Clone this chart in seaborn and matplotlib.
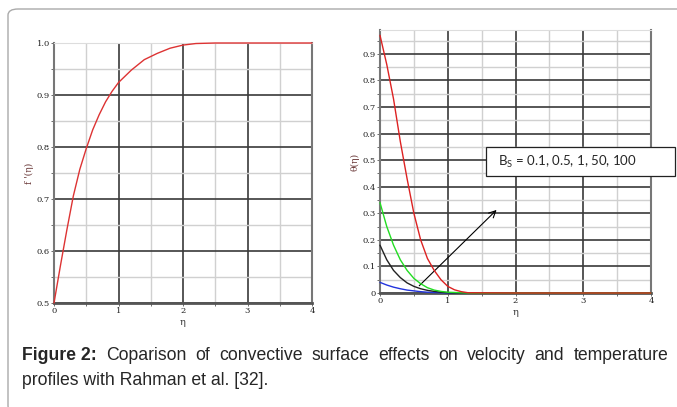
import numpy as np
import pandas as pd
import seaborn as sns
import matplotlib.pyplot as plt
from matplotlib.patches import FancyBboxPatch, Rectangle
from matplotlib.ticker import MultipleLocator

# velocity profile f'(eta)
eta_f = [0, 0.1, 0.2, 0.3, 0.4, 0.5, 0.6, 0.7, 0.8, 0.9, 1.0, 1.2, 1.4, 1.6, 1.8, 2.0, 2.2, 2.5, 3.0, 4.0]
f_prime = [0.50, 0.572, 0.641, 0.706, 0.757, 0.797, 0.833, 0.862, 0.887, 0.907, 0.924,
           0.948, 0.968, 0.980, 0.990, 0.996, 0.999, 1.0, 1.0, 1.0]

# temperature profiles theta(eta) for several Bs
eta_t = [0, 0.1, 0.2, 0.3, 0.4, 0.5, 0.6, 0.7, 0.8, 0.9, 1.0, 1.1, 1.2, 1.3, 2.0, 4.0]
theta_red = [0.97, 0.86, 0.73, 0.57, 0.43, 0.30, 0.20, 0.13, 0.085, 0.05, 0.025, 0.012, 0.005, 0.001, 0, 0]
theta_green = [0.34, 0.25, 0.18, 0.125, 0.085, 0.055, 0.035, 0.02, 0.011, 0.006, 0.003, 0.002, 0.001, 0, 0, 0]
theta_black = [0.18, 0.125, 0.085, 0.058, 0.038, 0.025, 0.016, 0.01, 0.006, 0.003, 0.001, 0, 0, 0, 0, 0]
theta_blue = [0.04, 0.03, 0.022, 0.016, 0.011, 0.008, 0.005, 0.003, 0.002, 0.001, 0, 0, 0, 0, 0, 0]

series_names = ["blue", "black", "green", "red"]
series_vals = [theta_blue, theta_black, theta_green, theta_red]
series_colors = ["#2233dd", "#222222", "#22dd22", "#dd2222"]

caption_1 = ["Figure 2:", "Coparison", "of", "convective", "surface", "effects", "on",
             "velocity", "and", "temperature"]
caption_2 = "profiles with Rahman et al. [32]."

df_f = pd.DataFrame({"eta": eta_f, "f": f_prime})
df_t = pd.concat([pd.DataFrame({"eta": eta_t, "theta": v, "s": n})
                  for n, v in zip(series_names, series_vals)])

sns.set_style("white")
fig = plt.figure(figsize=(6.77, 4.07), dpi=100)

ax1 = fig.add_axes([54/677, 1 - 303/407, 258/677, 260/407])
ax2 = fig.add_axes([380/677, 1 - 293/407, 271/677, 263/407])

sns.lineplot(data=df_f, x="eta", y="f", color="#dd3333", lw=1.0, ax=ax1)
sns.lineplot(data=df_t, x="eta", y="theta", hue="s", palette=dict(zip(series_names, series_colors)),
             lw=1.0, ax=ax2, legend=False)
for ax in (ax1, ax2):
    for ln in ax.lines:
        ln.set_clip_on(False)
        ln.set_zorder(4)

tick_font = dict(family="DejaVu Serif", size=6, color="#222222")

def style(ax, ylo, yhi, ylab):
    ax.set_xlim(0, 4)
    ax.set_ylim(ylo, yhi)
    ax.xaxis.set_major_locator(MultipleLocator(1))
    ax.xaxis.set_minor_locator(MultipleLocator(0.5))
    ax.yaxis.set_major_locator(MultipleLocator(0.1))
    ax.yaxis.set_minor_locator(MultipleLocator(0.05))
    ax.grid(which="major", color="#3a3a3a", lw=1.2)
    ax.grid(which="minor", color="#d0d0d0", lw=1.0)
    ax.set_axisbelow(True)
    ax.tick_params(which="both", left=True, bottom=True, length=2, width=0.6, colors="#555555", pad=1)
    ax.set_xlabel("η", fontsize=7, family="DejaVu Serif", color="#333333", labelpad=2)
    ax.set_ylabel(ylab, fontsize=6.5, family="DejaVu Serif", color="#663333", labelpad=2)
    ax.spines["left"].set_color("#777777")
    ax.spines["left"].set_linewidth(1.5)
    ax.spines["bottom"].set_color("#555555")
    ax.spines["bottom"].set_linewidth(2.0)
    ax.spines["right"].set_color("#777777")
    ax.spines["right"].set_linewidth(1.5)
    ax.spines["top"].set_color("#dddddd")
    ax.set_xticks([0, 1, 2, 3, 4])
    ax.set_xticklabels(["0", "1", "2", "3", "4"], **tick_font)

style(ax1, 0.5, 1.0, "f '(η)")
ax1.set_yticks([0.5, 0.6, 0.7, 0.8, 0.9, 1.0])
ax1.set_yticklabels(["0.5", "0.6", "0.7", "0.8", "0.9", "1.0"], **tick_font)

style(ax2, 0, 0.99, "θ(η)")
yt = [0, 0.1, 0.2, 0.3, 0.4, 0.5, 0.6, 0.7, 0.8, 0.9]
ax2.set_yticks(yt)
ax2.set_yticklabels(["0"] + [f"{v:.1f}" for v in yt[1:]], **tick_font)

# arrow across the curves
ax2.annotate("", xy=(1.75, 0.32), xytext=(0.55, 0.02),
             arrowprops=dict(arrowstyle="->", color="black", lw=0.8, mutation_scale=12))

# label box
fig.patches.append(Rectangle((486/677, 1 - 176/407), 189/677, 29/407, transform=fig.transFigure,
                             facecolor="white", edgecolor="#222222", lw=0.9, zorder=5))
fig.text(498/677, 1 - 162/407, r"B$_\mathregular{S}$ = 0.1, 0.5, 1, 50, 100", family="Lato",
         fontsize=9.5, va="center", ha="left", zorder=6)

# outer rounded border
fig.patches.append(FancyBboxPatch((8/677, -5/407), 700/677, 403/407, transform=fig.transFigure,
                                  boxstyle="round,pad=0,rounding_size=0.015", facecolor="none",
                                  edgecolor="#aaaaaa", lw=1.0, zorder=0))

# caption, first line justified between x=22 and x=668
cap_size = 12.7
fig.canvas.draw()
rend = fig.canvas.get_renderer()
words = []
for i, w in enumerate(caption_1):
    t = fig.text(0, 1 - 360/407, w, family="Liberation Sans", fontsize=cap_size,
                 weight="bold" if i == 0 else "normal", va="baseline", ha="left")
    words.append(t)
widths = [t.get_window_extent(rend).width for t in words]
gap = (646 - sum(widths)) / (len(words) - 1)
x = 22
for t, w in zip(words, widths):
    t.set_x(x / 677)
    x += w + gap
fig.text(22/677, 1 - 385/407, caption_2, family="Liberation Sans",
         fontsize=cap_size, va="baseline", ha="left")

fig.savefig("out.png", dpi=100)
